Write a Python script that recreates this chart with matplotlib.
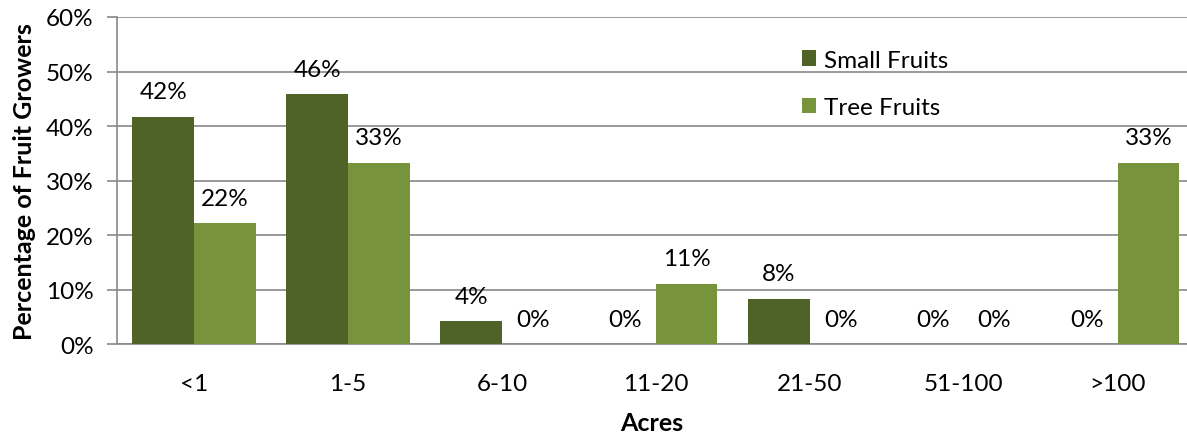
import matplotlib
matplotlib.use("Agg")
import matplotlib.pyplot as plt
import numpy as np
from matplotlib.ticker import PercentFormatter

plt.rcParams['font.family'] = ['Lato', 'DejaVu Sans']

categories = ["<1", "1-5", "6-10", "11-20", "21-50", "51-100", ">100"]
small_fruits = [41.7, 45.8, 4.2, 0.0, 8.3, 0.0, 0.0]
tree_fruits = [22.2, 33.3, 0.0, 11.1, 0.0, 0.0, 33.3]
series_names = ["Small Fruits", "Tree Fruits"]
colors = ["#4F6228", "#77933C"]

fig = plt.figure(figsize=(11.87, 4.39), dpi=100)
ax = fig.add_axes([0.0986, 0.2141, 0.9014, 0.7449])

x = np.arange(len(categories))
width = 0.40
grid_color = "#898989"
fs = 17.5

for i, (vals, name, c) in enumerate(zip([small_fruits, tree_fruits], series_names, colors)):
    pos = x + (i - 0.5) * width
    ax.bar(pos, vals, width=width, color=c, label=name, zorder=3)
    for px, v in zip(pos, vals):
        ax.annotate(f"{v:.0f}%", (px, v), xytext=(0, 18), textcoords="offset points",
                    ha="center", va="center", fontsize=fs, color="#000000")

ax.set_ylim(0, 60)
ax.set_xlim(-0.5, 6.45)
ax.set_yticks(np.arange(0, 61, 10))
ax.yaxis.set_major_formatter(PercentFormatter(decimals=0))
ax.set_xticks(x)
ax.set_xticklabels(categories)
ax.tick_params(axis="x", length=0, pad=21, labelsize=fs)
ax.tick_params(axis="y", length=7, width=1.2, color=grid_color, pad=10, labelsize=fs)
ax.grid(axis="y", color=grid_color, linewidth=1.2, zorder=0)

for s in ["top", "right"]:
    ax.spines[s].set_visible(False)
for s in ["left", "bottom"]:
    ax.spines[s].set_color(grid_color)
    ax.spines[s].set_linewidth(1.2)

ax.set_ylabel("Percentage of Fruit Growers", fontsize=18, fontweight="bold", labelpad=7)
ax.set_xlabel("Acres", fontsize=18, fontweight="bold", labelpad=12)

ax.legend(loc="upper left", bbox_to_anchor=(0.631, 0.93), frameon=False, fontsize=fs,
          handlelength=0.6, handleheight=0.6, handletextpad=0.3, labelspacing=1.1,
          borderaxespad=0)

fig.savefig("out.png", dpi=100)
